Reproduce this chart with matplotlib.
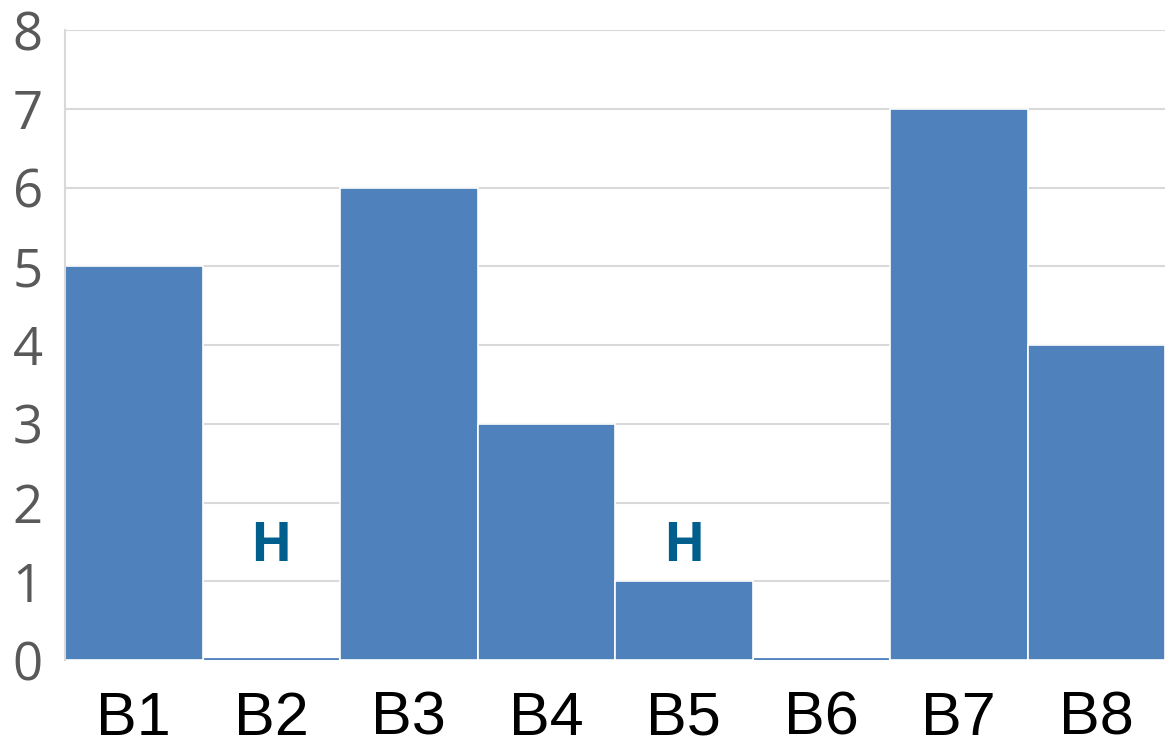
import matplotlib
matplotlib.use("Agg")
import matplotlib.pyplot as plt

categories = ["B1", "B2", "B3", "B4", "B5", "B6", "B7", "B8"]
values = [5, 0, 6, 3, 1, 0, 7, 4]
marker_cats = ["B2", "B5"]
marker_text = "H"
marker_y = 1.43
y_ticks = [0, 1, 2, 3, 4, 5, 6, 7, 8]

fig = plt.figure(figsize=(11.65, 7.5), dpi=100)
ax = fig.add_axes([0.0558, 0.12, 0.9442, 0.84])

x = list(range(len(categories)))
bars = ax.bar(x, values, width=1.0, color="#4F81BD", edgecolor="white", linewidth=1.2, zorder=2)
# zero-value bars show a thin blue line at baseline
for xi, v in zip(x, values):
    if v == 0:
        ax.plot([xi - 0.48, xi + 0.48], [0.01, 0.01], color="#4F81BD", linewidth=2, zorder=3)

for c in marker_cats:
    i = categories.index(c)
    ax.text(i, marker_y, marker_text, ha="center", va="center", fontsize=39,
            fontweight="bold", color="#005F8C", family="Open Sans", zorder=4)

ax.set_xlim(-0.5, len(categories) - 0.5)
ax.set_ylim(0, 8)
ax.set_yticks(y_ticks)
ax.set_yticklabels([str(t) for t in y_ticks], fontsize=38, color="#595959", family="Open Sans")
ax.set_xticks(x)
ax.set_xticklabels(categories, fontsize=44, color="black", family="Liberation Sans")
ax.tick_params(axis="both", length=0)
ax.tick_params(axis="y", pad=16)
ax.tick_params(axis="x", pad=22)

ax.grid(axis="y", color="#D9D9D9", linewidth=1.5, zorder=0)
ax.set_axisbelow(True)
for s in ["top", "right", "bottom"]:
    ax.spines[s].set_visible(False)
ax.spines["left"].set_color("#D9D9D9")
ax.spines["left"].set_linewidth(1.5)

fig.savefig("out.png", dpi=100)
